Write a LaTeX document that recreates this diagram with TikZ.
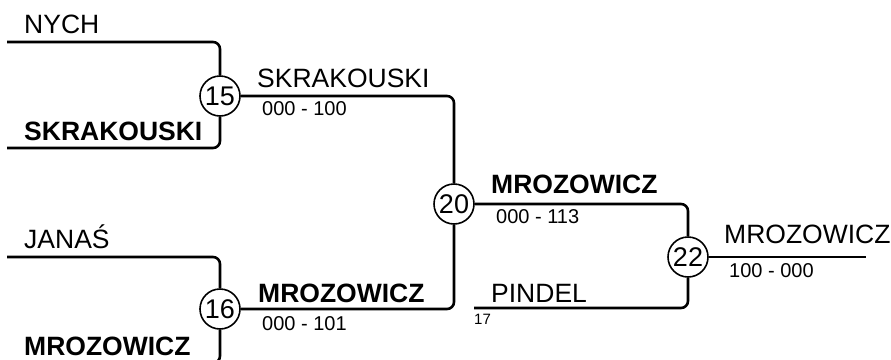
\documentclass[tikz,border=0pt]{standalone}
\usepackage{fontspec}
\setmainfont{Liberation Sans}
\begin{document}
\begin{tikzpicture}[x=1pt, y=-1pt,
  match/.style={circle, draw, line width=1.6pt, minimum size=40pt, inner sep=0pt, font=\fontsize{27}{27}\selectfont},
  bracket/.style={line width=2.6pt, rounded corners=7pt},
  player/.style={anchor=base west, inner sep=0pt, font=\fontsize{26.5}{26.5}\selectfont},
  winner/.style={player, font=\fontsize{26.5}{26.5}\selectfont\bfseries},
  score/.style={anchor=base west, inner sep=0pt, font=\fontsize{20}{20}\selectfont},
  seed/.style={anchor=base west, inner sep=0pt, font=\fontsize{15}{15}\selectfont}]
  \clip (0,0) rectangle (891,359);
  \useasboundingbox (0,0) rectangle (891,359);

  \node[match] (m15) at (220,96) {15};
  \node[match] (m16) at (220,309) {16};
  \node[match] (m20) at (454,204) {20};
  \node[match] (m22) at (688,257) {22};

  \coordinate (nych) at (7,42);
  \coordinate (skra) at (7,148);
  \coordinate (jana) at (7,257);
  \coordinate (mroz) at (7,363);
  \coordinate (pind) at (474,308);
  \coordinate (final) at (866,257);

  \draw[bracket] (nych) -| (m15);
  \draw[bracket] (skra) -| (m15);
  \draw[bracket] (jana) -| (m16);
  \draw[bracket] (mroz) -| (m16);
  \draw[bracket] (m15) -| (m20);
  \draw[bracket] (m16) -| (m20);
  \draw[bracket] (m20) -| (m22);
  \draw[bracket] (pind) -| (m22);
  \draw[bracket] (m22) -- (final);

  \node[player] (t1) at (24,33) {NYCH};
  \node[winner] (t2) at (24,140) {SKRAKOUSKI};
  \node[player] (t3) at (24,248) {JANAŚ};
  \node[winner] (t4) at (24,355) {MROZOWICZ};
  \node[player] (t5) at (257,87) {SKRAKOUSKI};
  \node[score] (s5) at (262,115) {000 - 100};
  \node[winner] (t6) at (258,302) {MROZOWICZ};
  \node[score] (s6) at (262,330) {000 - 101};
  \node[winner] (t7) at (491,193) {MROZOWICZ};
  \node[score] (s7) at (496,223) {000 - 113};
  \node[player] (t8) at (491,302) {PINDEL};
  \node[seed] (s8) at (474,324) {17};
  \node[player] (t9) at (724,243) {MROZOWICZ};
  \node[score] (s9) at (729,277) {100 - 000};
\end{tikzpicture}
\end{document}
